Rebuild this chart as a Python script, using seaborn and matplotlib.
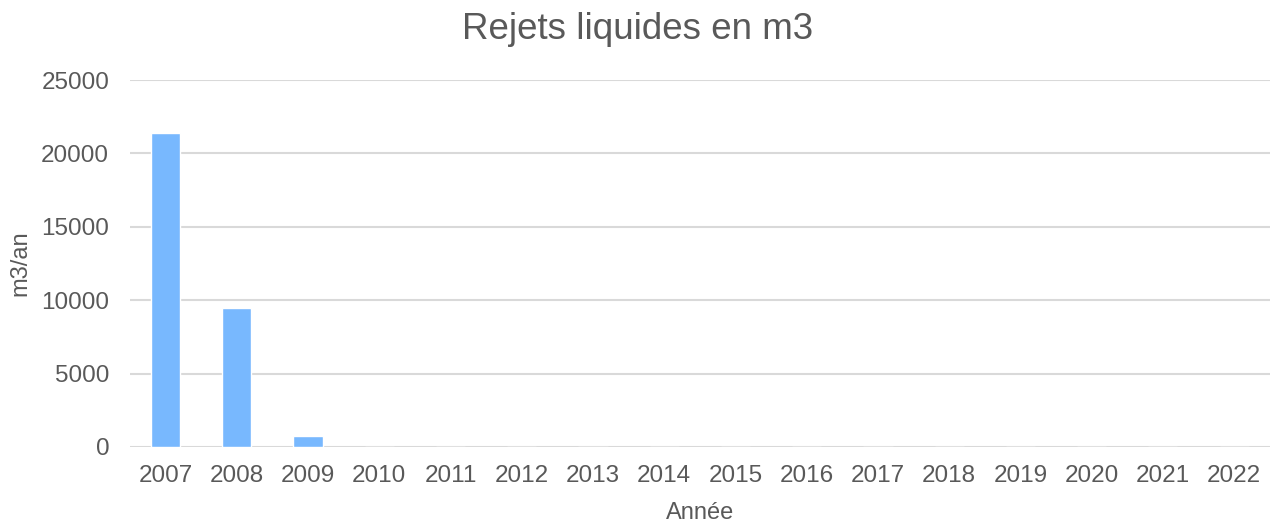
import matplotlib
matplotlib.use("Agg")
import matplotlib.pyplot as plt
import seaborn as sns
import pandas as pd

years = [str(y) for y in range(2007, 2023)]
rejets = [21400, 9450, 720, 0, 0, 0, 0, 0, 0, 0, 0, 0, 0, 0, 0, 0]
y_ticks = [0, 5000, 10000, 15000, 20000, 25000]

df = pd.DataFrame({'Année': years, 'm3/an': rejets})

sns.set_theme(style="white")
plt.rcParams['font.family'] = ['Liberation Sans', 'DejaVu Sans']
text_col = '#595959'

fig = plt.figure(figsize=(12.71, 5.25), dpi=100)
ax = fig.add_axes([0.1023, 0.1486, 0.8967, 0.699])

sns.barplot(data=df, x='Année', y='m3/an', color='#78b8fe', width=0.41,
            saturation=1, ax=ax, zorder=3)

ax.set_ylim(0, 25000)
ax.set_yticks(y_ticks)
ax.set_yticklabels([str(v) for v in y_ticks])
ax.grid(axis='y', color='#d9d9d9', linewidth=1.5, zorder=0)
ax.set_axisbelow(True)
for s in ax.spines.values():
    s.set_visible(False)

ax.tick_params(axis='x', length=0, pad=13, labelsize=17.5, labelcolor=text_col)
ax.tick_params(axis='y', length=0, pad=15, labelsize=17.5, labelcolor=text_col)

# titre centré sur la figure, pas sur les axes
fig.text(0.5017, 0.943, 'Rejets liquides en m3', fontsize=26.5, color=text_col,
         ha='center', va='center')
ax.set_xlabel('Année', fontsize=17, color=text_col, labelpad=11)
ax.set_ylabel('m3/an', fontsize=17, color=text_col, labelpad=7)

fig.savefig('out.png', dpi=100)
